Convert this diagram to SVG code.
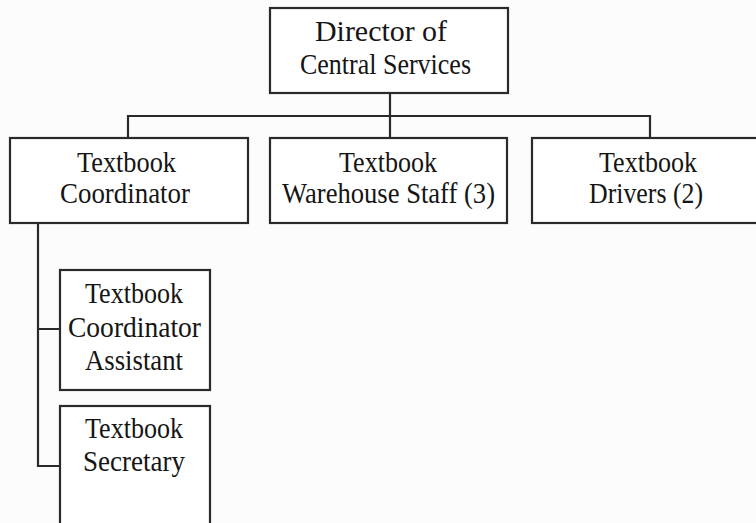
<svg xmlns="http://www.w3.org/2000/svg" width="756" height="523" viewBox="0 0 756 523">
  <style>
    .box { fill: #ffffff; stroke: #2a2a2a; stroke-width: 2.2; }
    .wire { fill: none; stroke: #2a2a2a; stroke-width: 2.2; }
    .lbl { font-family: "Liberation Serif", "Times New Roman", serif; font-size: 30px; fill: #151515; }
  </style>
  <rect x="0" y="0" width="756" height="523" fill="#fcfcfc"/>

  <!-- reporting lines -->
  <g id="connectors">
    <path class="wire" d="M390 93 V116 M128 138 V116 H650 V138 M390 116 V138"/>
    <path class="wire" d="M38 223 V466 H60 M38 329 H60"/>
  </g>

  <g id="director">
    <rect class="box" x="270" y="8" width="238" height="85"/>
    <text class="lbl" x="315" y="41" textLength="132" lengthAdjust="spacingAndGlyphs">Director of</text>
    <text class="lbl" x="300" y="74" textLength="171" lengthAdjust="spacingAndGlyphs">Central Services</text>
  </g>

  <g id="coordinator">
    <rect class="box" x="10" y="138" width="238" height="85"/>
    <text class="lbl" x="77" y="172" textLength="99" lengthAdjust="spacingAndGlyphs">Textbook</text>
    <text class="lbl" x="60" y="203" textLength="130" lengthAdjust="spacingAndGlyphs">Coordinator</text>
  </g>

  <g id="warehouse">
    <rect class="box" x="270" y="138" width="237" height="85"/>
    <text class="lbl" x="339" y="172" textLength="98" lengthAdjust="spacingAndGlyphs">Textbook</text>
    <text class="lbl" x="282" y="203" textLength="213" lengthAdjust="spacingAndGlyphs">Warehouse Staff (3)</text>
  </g>

  <g id="drivers">
    <rect class="box" x="532" y="138" width="240" height="85"/>
    <text class="lbl" x="599" y="172" textLength="98" lengthAdjust="spacingAndGlyphs">Textbook</text>
    <text class="lbl" x="589" y="203" textLength="114" lengthAdjust="spacingAndGlyphs">Drivers (2)</text>
  </g>

  <g id="assistant">
    <rect class="box" x="60" y="270" width="150" height="120"/>
    <text class="lbl" x="85" y="303" textLength="98" lengthAdjust="spacingAndGlyphs">Textbook</text>
    <text class="lbl" x="68" y="337" textLength="133" lengthAdjust="spacingAndGlyphs">Coordinator</text>
    <text class="lbl" x="85" y="370" textLength="98" lengthAdjust="spacingAndGlyphs">Assistant</text>
  </g>

  <g id="secretary">
    <rect class="box" x="60" y="406" width="150" height="130"/>
    <text class="lbl" x="85" y="438" textLength="98" lengthAdjust="spacingAndGlyphs">Textbook</text>
    <text class="lbl" x="83" y="471" textLength="102" lengthAdjust="spacingAndGlyphs">Secretary</text>
  </g>
</svg>
